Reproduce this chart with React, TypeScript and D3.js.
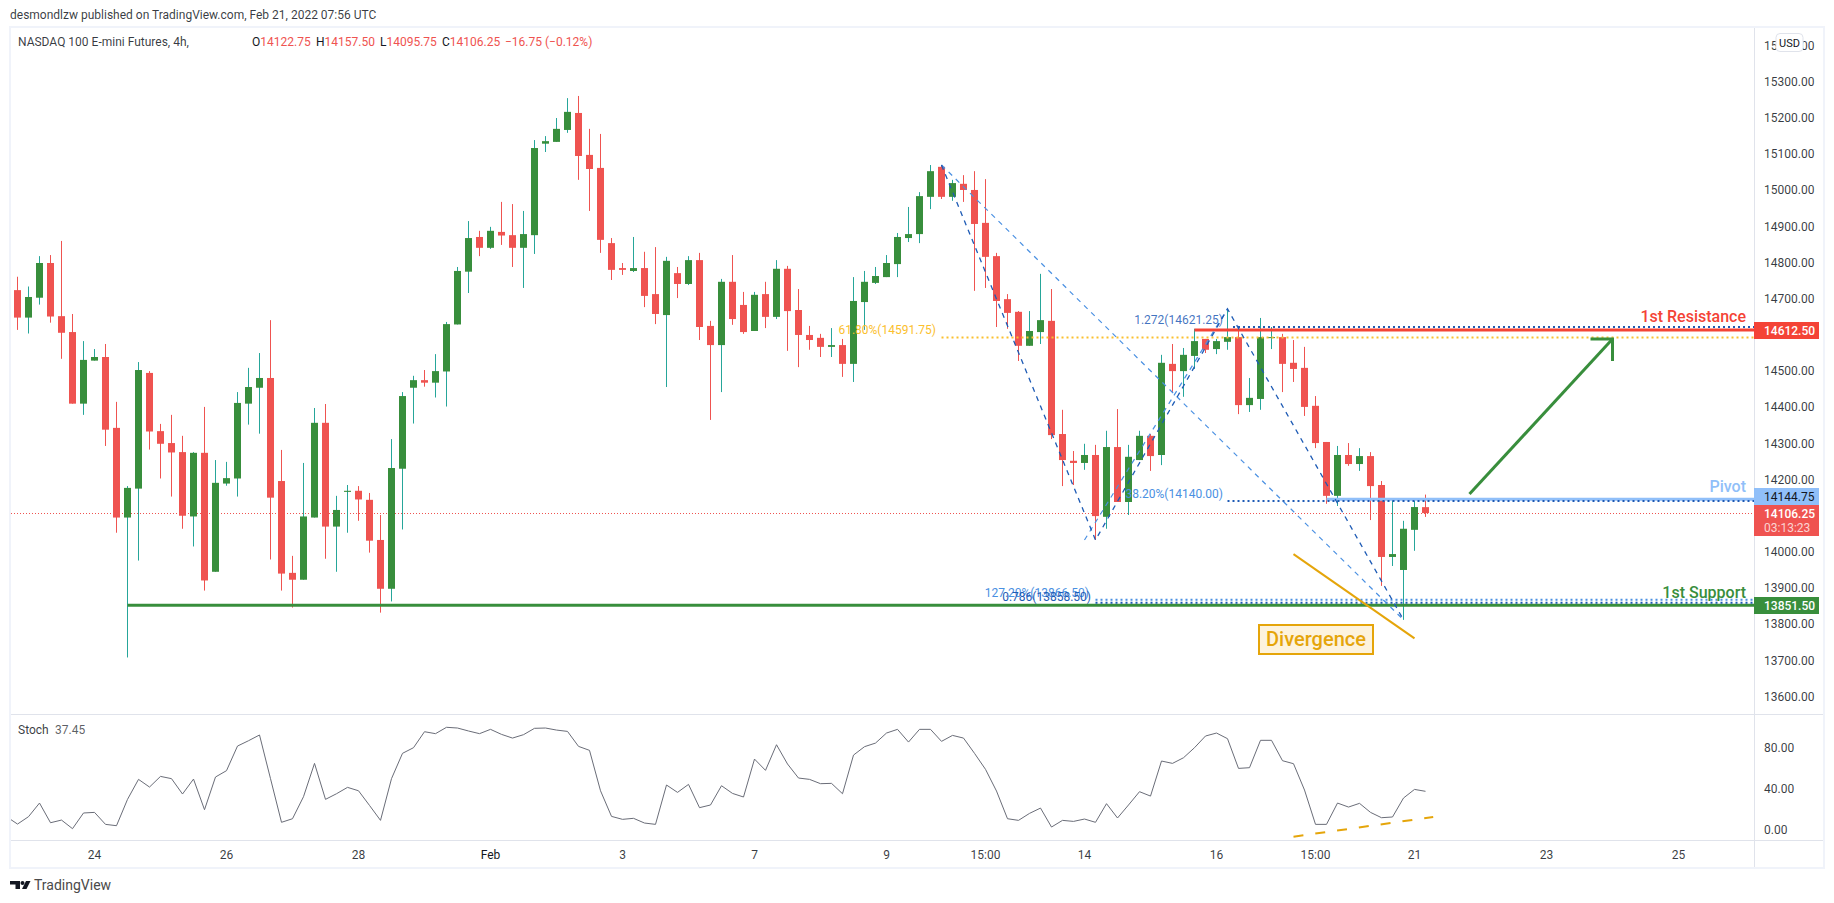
import React from 'react';
import * as d3 from 'd3';

// 4h candles, oldest first
const opens = [
  14723, 14647, 14702, 14798, 14651, 14607, 14409, 14528, 14538, 14342,
  14094, 14174, 14494, 14333, 14300, 14275, 14097, 14273, 13944, 14188,
  14202, 14409, 14453, 14480, 14195, 13941, 13922, 14094, 14356, 14069,
  14165, 14168, 14143, 14032, 13897, 14229, 14453, 14474, 14467, 14498,
  14628, 14774, 14870, 14840, 14884, 14875, 14840, 14875, 15128, 15133,
  15166, 15213, 15097, 15061, 14853, 14784, 14776, 14784, 14712, 14654,
  14770, 14740, 14806, 14624, 14571, 14746, 14682, 14610, 14712, 14649,
  14782, 14668, 14599, 14591, 14566, 14571, 14519, 14690, 14743, 14759,
  14795, 14867, 14878, 14981, 15064, 14981, 15017, 15000, 14909, 14817,
  14698, 14663, 14569, 14607, 14638, 14325, 14251, 14245, 14267, 14096,
  14289, 14137, 14253, 14320, 14267, 14519, 14499, 14541, 14588, 14560,
  14580, 14593, 14405, 14422, 14591, 14593, 14522, 14508, 14403, 14303,
  14154, 14267, 14242, 14264, 14184, 13985, 13949, 14060, 14122.75,
];
const highs = [
  14760, 14733, 14817, 14820, 14859, 14657, 14582, 14560, 14574, 14414,
  14181, 14524, 14499, 14353, 14378, 14320, 14275, 14400, 14253, 14248,
  14441, 14508, 14549, 14640, 14281, 13988, 14245, 14397, 14408, 14154,
  14184, 14181, 14162, 14101, 14311, 14441, 14486, 14502, 14546, 14635,
  14787, 14914, 14887, 14898, 14967, 14961, 14942, 15138, 15149, 15199,
  15254, 15260, 15169, 15155, 14867, 14798, 14870, 14829, 14842, 14815,
  14787, 14817, 14826, 14638, 14754, 14820, 14718, 14718, 14746, 14806,
  14790, 14726, 14624, 14602, 14618, 14588, 14759, 14776, 14787, 14820,
  14881, 14953, 14994, 15069, 15069, 15028, 15041, 15052, 15030, 14826,
  14712, 14665, 14665, 14768, 14726, 14392, 14278, 14298, 14295, 14334,
  14394, 14295, 14334, 14325, 14544, 14574, 14563, 14616, 14588, 14588,
  14671, 14624, 14480, 14646, 14621, 14602, 14585, 14566, 14430, 14303,
  14292, 14300, 14286, 14275, 14195, 14143, 14085, 14140, 14157.5,
];
const lows = [
  14613, 14603, 14683, 14633, 14533, 14409, 14378, 14528, 14292, 14052,
  13707, 13975, 14282, 14202, 14152, 14063, 14014, 13892, 13944, 14182,
  14152, 14351, 14326, 13978, 13892, 13845, 13922, 14094, 13980, 13944,
  14052, 14085, 13997, 13831, 13862, 14061, 14354, 14456, 14426, 14401,
  14628, 14715, 14817, 14837, 14848, 14787, 14729, 14823, 15105, 15133,
  15158, 15028, 14942, 14826, 14751, 14765, 14773, 14676, 14629, 14455,
  14701, 14737, 14585, 14364, 14441, 14627, 14602, 14610, 14618, 14643,
  14555, 14510, 14558, 14538, 14538, 14483, 14469, 14613, 14740, 14759,
  14759, 14856, 14853, 14947, 14975, 14970, 14967, 14721, 14729, 14621,
  14616, 14527, 14569, 14574, 14311, 14181, 14184, 14226, 14032, 14063,
  14137, 14101, 14253, 14223, 14239, 14441, 14428, 14505, 14549, 14546,
  14558, 14380, 14386, 14392, 14560, 14441, 14469, 14375, 14286, 14132,
  14126, 14237, 14223, 14087, 13905, 13960, 13811, 14002, 14095.75,
];
const closes = [
  14647, 14704, 14798, 14650, 14605, 14409, 14530, 14538, 14337, 14094,
  14176, 14502, 14332, 14298, 14274, 14099, 14273, 13920, 14190, 14203,
  14411, 14455, 14480, 14149, 13939, 13922, 14097, 14356, 14069, 14115,
  14168, 14144, 14030, 13897, 14231, 14430, 14474, 14467, 14499, 14629,
  14776, 14867, 14840, 14887, 14874, 14840, 14878, 15116, 15135, 15169,
  15216, 15094, 15058, 14862, 14779, 14779, 14784, 14707, 14657, 14804,
  14740, 14806, 14621, 14571, 14746, 14643, 14607, 14710, 14649, 14782,
  14665, 14599, 14585, 14566, 14571, 14519, 14693, 14746, 14762, 14798,
  14870, 14878, 14983, 15052, 14981, 15019, 15000, 14906, 14815, 14693,
  14660, 14569, 14610, 14640, 14322, 14253, 14245, 14267, 14098, 14289,
  14137, 14262, 14320, 14264, 14522, 14499, 14544, 14582, 14558, 14582,
  14593, 14405, 14425, 14593, 14593, 14519, 14505, 14400, 14300, 14154,
  14267, 14242, 14264, 14181, 13985, 13993, 14063, 14123, 14106.25,
];

// stochastic, one value per candle; the first one is the bar just off the left edge
const stoch = [
  12.7, 5.5, 12.7, 26, 6.8, 9.4, 1, 16.3, 16.9, 5.2,
  3.9, 29.6, 49.1, 41.6, 52, 49.8, 34.8, 49.4, 19.5, 51.4,
  57.6, 81.6, 86.8, 92.4, 49.8, 7.2, 10.7, 32.2, 64.7, 29.6,
  35.1, 41.3, 38, 23.7, 9.1, 49.8, 74.5, 80, 95.6, 93.7,
  99.9, 99.2, 96.3, 93.7, 97.9, 93, 89.4, 92.7, 98.9, 99.2,
  97.2, 95.9, 81.3, 77.4, 38, 13, 10.1, 11.1, 6.5, 5.2,
  43.6, 36.4, 44.2, 21.5, 24.1, 42.9, 35.4, 31.9, 68.9, 57.9,
  82.9, 64.1, 50.4, 49.1, 44.9, 45.2, 35.1, 72.8, 81, 84.5,
  94.3, 97.9, 85.5, 97.9, 97.9, 86.2, 92, 89.4, 74.5, 58.9,
  37.7, 10.7, 9.1, 15.9, 21.1, 2.6, 9.1, 8.1, 10.4, 7.2,
  25.4, 11.4, 24.1, 37.1, 32.8, 67, 64.7, 70.2, 80, 91.4,
  94.3, 88.8, 59.8, 60.5, 87.2, 87.2, 67.3, 64.4, 38.7, 5.2,
  5.2, 26, 22.1, 25.7, 16.9, 11.7, 12.4, 30.9, 39.3, 37.45,
];

const priceTicks = [15400, 15300, 15200, 15100, 15000, 14900, 14800, 14700, 14500, 14400, 14300, 14200, 14000, 13900, 13800, 13700, 13600];
const stochTicks = [80, 40, 0];
const timeLabels = ['24', '26', '28', 'Feb', '3', '7', '9', '15:00', '14', '16', '15:00', '21', '23', '25'];
const timeBars = [7, 19, 31, 43, 55, 67, 79, 88, 97, 109, 118, 127, 139, 151];

// drawing tools, as [bar, price]
const zigzag: [number, number][] = [[84, 15069], [98, 14032], [110, 14671], [126, 13811]];
const fibLong: [number, number][] = [[84, 15069], [126, 13811]];
const fibShort: [number, number][] = [[97, 14032], [110, 14671]];
const arrowLine: [number, number][] = [[132, 14159], [145, 14588]];
const divergenceLine: [number, number][] = [[116, 13993], [127, 13760]];
const stochDivergence: [number, number][] = [[116, -6.8], [128.7, 12.4]];

const W = 1834;
const H = 903;
const axisX = 1754;
const paneLeft = 11;

const x = d3.scaleLinear().domain([0, 128]).range([17.5, 1425.5]);
const y = d3.scaleLinear().domain([15300, 13700]).range([81.5, 660]);
const yStoch = d3.scaleLinear().domain([0, 80]).range([829.7, 747.7]);

const FONT = 'Roboto, sans-serif';
const RED = '#ef5350';
const GREEN = '#388e3c';
const TEAL = '#26a69a';
const TEXT = '#131722';
const ORANGE = '#e5a50a';
const SR_RED = '#f44336';
const PIVOT = '#90bff9';
const DARK_BLUE = '#1e5bb5';
const LIGHT_BLUE = '#4a90e2';
const FIB_GOLD = '#fbc02d';

const priceLine = d3.line<[number, number]>().x(d => x(d[0])).y(d => y(d[1]));
const stochLine = d3.line<number>().x((_, i) => x(i - 1)).y(d => yStoch(d));
const stochNote = d3.line<[number, number]>().x(d => x(d[0])).y(d => yStoch(d[1]));

function PriceFlag({ top, h, fill, children }: { top: number; h: number; fill: string; children: React.ReactNode }) {
  return (
    <g>
      <rect x={axisX} y={top} width={65} height={h} fill={fill} />
      {children}
    </g>
  );
}

export default function App() {
  const axisText = { fontFamily: FONT, fontSize: 12, fill: TEXT, fillOpacity: 0.85 };
  const hl = (v: number) => Math.round(y(v));

  return (
    <svg width={W} height={H} style={{ position: 'absolute', left: 0, top: 0, background: '#fff' }}>
      <defs>
        <clipPath id="main-pane"><rect x={paneLeft} y={28} width={axisX - paneLeft} height={686} /></clipPath>
        <clipPath id="stoch-pane"><rect x={paneLeft} y={715} width={axisX - paneLeft} height={125} /></clipPath>
      </defs>

      <text x={10} y={19} fontFamily={FONT} fontSize={12} fill={TEXT} fillOpacity={0.85}>
        desmondlzw published on TradingView.com, Feb 21, 2022 07:56 UTC
      </text>

      {/* frame and pane separators */}
      <rect x={10} y={27} width={1814} height={841} fill="none" stroke="#f0f3fa" strokeWidth={2} />
      <line x1={paneLeft} x2={1823} y1={714.5} y2={714.5} stroke="#e0e3eb" />
      <line x1={paneLeft} x2={1823} y1={840.5} y2={840.5} stroke="#e0e3eb" />
      <line x1={axisX + 0.5} x2={axisX + 0.5} y1={28} y2={867} stroke="#e0e3eb" />

      <g clipPath="url(#main-pane)">
        {/* last price */}
        <line x1={paneLeft} x2={axisX} y1={hl(14106.25) + 0.5} y2={hl(14106.25) + 0.5} stroke={RED} strokeDasharray="1 2" />

        {/* candles */}
        {opens.map((o, i) => {
          const up = closes[i] >= o;
          const top = y(Math.max(o, closes[i]));
          const bottom = y(Math.min(o, closes[i]));
          return (
            <g key={i}>
              <line x1={x(i)} x2={x(i)} y1={y(highs[i])} y2={y(lows[i])} stroke={up ? TEAL : RED} />
              <rect x={x(i) - 3.5} y={top} width={7} height={Math.max(bottom - top, 1)} fill={up ? GREEN : RED} />
            </g>
          );
        })}

        {/* support / resistance / pivot */}
        <line x1={x(10)} x2={axisX} y1={y(13851.5)} y2={y(13851.5)} stroke={GREEN} strokeWidth={3} />
        <line x1={x(107)} x2={axisX} y1={y(14612.5)} y2={y(14612.5)} stroke={SR_RED} strokeWidth={3} />
        <line x1={x(119)} x2={axisX} y1={y(14144.75)} y2={y(14144.75)} stroke={PIVOT} strokeWidth={3} />

        {/* fib levels */}
        <line x1={1233} x2={axisX} y1={y(14621.25)} y2={y(14621.25)} stroke={DARK_BLUE} strokeWidth={2} strokeDasharray="2 3" />
        <line x1={x(84)} x2={axisX} y1={y(14591.75)} y2={y(14591.75)} stroke={FIB_GOLD} strokeWidth={2} strokeDasharray="2 3" />
        <line x1={x(110)} x2={axisX} y1={y(14140)} y2={y(14140)} stroke={DARK_BLUE} strokeWidth={2} strokeDasharray="2 3" />
        <line x1={x(98)} x2={axisX} y1={y(13866.5)} y2={y(13866.5)} stroke={LIGHT_BLUE} strokeWidth={2} strokeDasharray="2 3" />
        <line x1={x(98)} x2={axisX} y1={y(13858.5)} y2={y(13858.5)} stroke={DARK_BLUE} strokeWidth={2} strokeDasharray="2 3" />

        {/* swing lines */}
        <path d={priceLine(fibLong)!} fill="none" stroke={LIGHT_BLUE} strokeWidth={1.2} strokeDasharray="5 5" />
        <path d={priceLine(fibShort)!} fill="none" stroke={LIGHT_BLUE} strokeWidth={1.2} strokeDasharray="5 5" />
        <path d={priceLine(zigzag)!} fill="none" stroke={DARK_BLUE} strokeWidth={1.3} strokeDasharray="5 5" />

        {/* fib labels */}
        <text x={1223} y={324} textAnchor="end" fontFamily={FONT} fontSize={12} fill={DARK_BLUE} fillOpacity={0.85}>1.272(14621.25)</text>
        <text x={936} y={334} textAnchor="end" fontFamily={FONT} fontSize={12} fill={FIB_GOLD}>61.80%(14591.75)</text>
        <text x={1223} y={498} textAnchor="end" fontFamily={FONT} fontSize={12} fill={LIGHT_BLUE}>38.20%(14140.00)</text>
        <text x={1089} y={597} textAnchor="end" fontFamily={FONT} fontSize={12} fill={LIGHT_BLUE}>127.20%(13866.50)</text>
        <text x={1091} y={601} textAnchor="end" fontFamily={FONT} fontSize={12} fill={DARK_BLUE}>0.786(13858.50)</text>

        {/* target arrow */}
        <path d={priceLine(arrowLine)!} fill="none" stroke={GREEN} strokeWidth={3} />
        <path
          d={`M${x(arrowLine[1][0]) - 22},${y(arrowLine[1][1])}H${x(arrowLine[1][0])}V${y(arrowLine[1][1]) + 22}`}
          fill="none"
          stroke={GREEN}
          strokeWidth={3}
        />

        {/* divergence note */}
        <path d={priceLine(divergenceLine)!} fill="none" stroke={ORANGE} strokeWidth={2} />
        <rect x={1259} y={625} width={114} height={29} fill="#fdf3dd" stroke={ORANGE} strokeWidth={2} />
        <text x={1316} y={646} textAnchor="middle" fontFamily={FONT} fontSize={20} fontWeight={500} fill={ORANGE}>Divergence</text>

        {/* level names */}
        <text x={1746} y={322} textAnchor="end" fontFamily={FONT} fontSize={16} fontWeight={500} fill={SR_RED}>1st Resistance</text>
        <text x={1746} y={492} textAnchor="end" fontFamily={FONT} fontSize={16} fontWeight={500} fill={PIVOT}>Pivot</text>
        <text x={1746} y={598} textAnchor="end" fontFamily={FONT} fontSize={16} fontWeight={500} fill={GREEN}>1st Support</text>
      </g>

      {/* stochastic pane */}
      <g clipPath="url(#stoch-pane)">
        <path d={stochLine(stoch)!} fill="none" stroke="#6a6d78" strokeWidth={1} />
        <path d={stochNote(stochDivergence)!} fill="none" stroke={ORANGE} strokeWidth={2} strokeDasharray="10 12" />
      </g>

      {/* legends */}
      <text x={18} y={46} fontFamily={FONT} fontSize={12} fill={TEXT} fillOpacity={0.85}>NASDAQ 100 E-mini Futures, 4h,</text>
      <g fontFamily={FONT} fontSize={12} fill={RED}>
        <text x={252} y={46}><tspan fill={TEXT}>O</tspan>14122.75</text>
        <text x={316} y={46}><tspan fill={TEXT}>H</tspan>14157.50</text>
        <text x={380} y={46}><tspan fill={TEXT}>L</tspan>14095.75</text>
        <text x={442} y={46}><tspan fill={TEXT}>C</tspan>14106.25</text>
        <text x={505} y={46}>−16.75 (−0.12%)</text>
      </g>
      <text x={18} y={734} fontFamily={FONT} fontSize={12} fill={TEXT} fillOpacity={0.85}>Stoch</text>
      <text x={55} y={734} fontFamily={FONT} fontSize={12} fill={TEXT} fillOpacity={0.7}>37.45</text>

      {/* price axis */}
      {priceTicks.map(t => (
        <text key={t} x={1764} y={y(t) + 4.5} {...axisText}>{d3.format('.2f')(t)}</text>
      ))}
      {stochTicks.map(t => (
        <text key={t} x={1764} y={yStoch(t) + 4.5} {...axisText}>{d3.format('.2f')(t)}</text>
      ))}

      <rect x={1776} y={33.5} width={27} height={18} rx={4} fill="#fff" stroke="#e0e3eb" />
      <text x={1789.5} y={46.5} textAnchor="middle" fontFamily={FONT} fontSize={11} fill={TEXT}>USD</text>

      {/* price flags */}
      <PriceFlag top={322} h={17} fill={SR_RED}>
        <text x={1764} y={335} fontFamily={FONT} fontSize={12} fontWeight={500} fill="#fff">14612.50</text>
      </PriceFlag>
      <PriceFlag top={488} h={17} fill={PIVOT}>
        <text x={1764} y={501} fontFamily={FONT} fontSize={12} fill={TEXT}>14144.75</text>
      </PriceFlag>
      <PriceFlag top={505} h={31} fill={RED}>
        <text x={1764} y={518} fontFamily={FONT} fontSize={12} fontWeight={500} fill="#fff">14106.25</text>
        <text x={1764} y={532} fontFamily={FONT} fontSize={12} fill="#fff" fillOpacity={0.75}>03:13:23</text>
      </PriceFlag>
      <PriceFlag top={597} h={17} fill={GREEN}>
        <text x={1764} y={610} fontFamily={FONT} fontSize={12} fontWeight={500} fill="#fff">13851.50</text>
      </PriceFlag>

      {/* time axis */}
      {timeLabels.map((label, i) => (
        <text
          key={i}
          x={x(timeBars[i])}
          y={858.5}
          textAnchor="middle"
          fontFamily={FONT}
          fontSize={12}
          fill={TEXT}
          fillOpacity={label === 'Feb' ? 1 : 0.85}
        >
          {label}
        </text>
      ))}

      {/* TradingView mark */}
      <g fill="#131722">
        <path d="M10,881H20V889H15.5V884.5H10Z" />
        <circle cx={22.5} cy={883} r={2} />
        <path d="M26,881H30.5L26.5,889H22Z" />
      </g>
      <text x={34} y={890} fontFamily={FONT} fontSize={14} fill="#4a4a4a">TradingView</text>
    </svg>
  );
}
